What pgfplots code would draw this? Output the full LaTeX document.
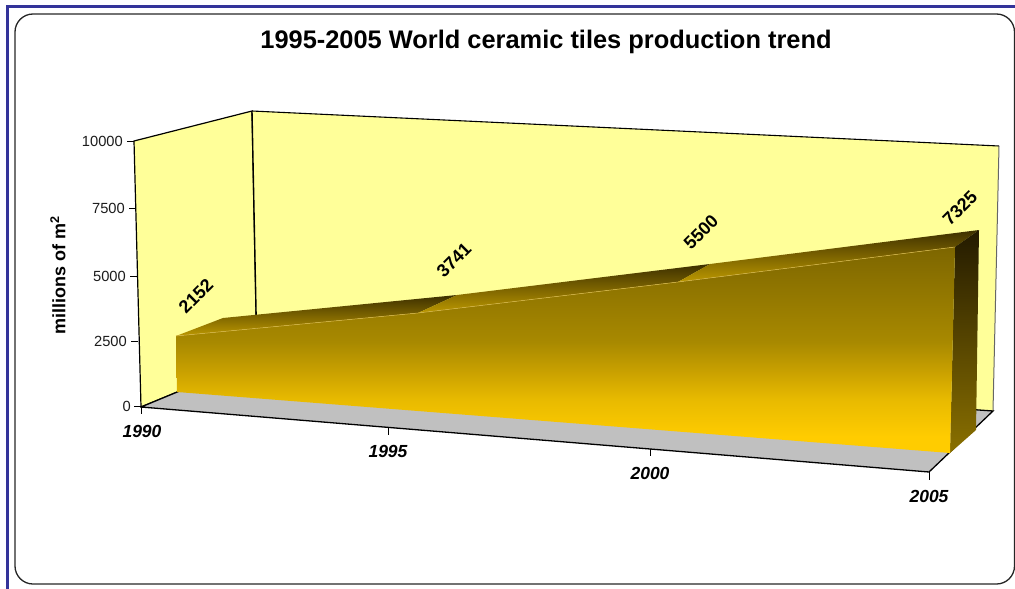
\documentclass[border=0pt]{standalone}
\usepackage{fontspec}
\setmainfont{Liberation Sans}
\usepackage{pgfplots}
\usepackage{pgfplotstable}
\pgfplotsset{compat=1.18}

\definecolor{wall}{HTML}{FFFF99}
\definecolor{floorgrey}{HTML}{C0C0C0}
\definecolor{frameblue}{HTML}{333399}
\definecolor{gold}{HTML}{FFCC00}
\definecolor{goldb}{HTML}{E8BA00}
\definecolor{goldc}{HTML}{C8A000}
\definecolor{goldd}{HTML}{A88900}
\definecolor{olive}{HTML}{7D6600}
\definecolor{sideolive}{HTML}{8A7000}
\definecolor{topgold}{HTML}{BC9800}
\definecolor{topdark}{HTML}{3C2F00}
\definecolor{sidedark}{HTML}{231A00}
\definecolor{seam}{HTML}{D8B850}
\definecolor{ticktext}{HTML}{1C1C1C}

% the path's box covers 25bp to 75bp of this shading
\pgfdeclareverticalshading{frontface}{100bp}{color(0bp)=(gold); color(29bp)=(gold); color(38bp)=(goldb); color(45bp)=(goldc); color(52bp)=(goldd); color(75bp)=(olive); color(100bp)=(olive)}

\tikzset{
    ticklab/.style={font=\fontsize{14.7}{15}\selectfont, anchor=east, inner sep=0pt, text=ticktext},
    yearlab/.style={font=\bfseries\itshape\fontsize{17.5}{18}\selectfont},
    vallab/.style={font=\bfseries\fontsize{18}{18}\selectfont, rotate=45},
}

% front face of the area: base and k place each value on the tilted front plane (pixels)
\pgfplotstableread{
year value px base k
1990 0    177 392 0
1990 2152 176 392 0.02602
1995 3741 418 411 0.02620
2000 5500 678 432 0.02727
2005 7325 955 453 0.02812
2005 0    950 453 0
}\front

\begin{document}
\begin{tikzpicture}
\useasboundingbox (0,0) rectangle (1015pt,589pt);
\begin{axis}[
    at={(0,0)}, anchor=south west,
    scale only axis,
    width=1015pt, height=589pt,
    xmin=0, xmax=1015, ymin=0, ymax=589,
    y dir=reverse,
    hide axis,
    clip=false,
]
% page frame
\addplot[frameblue, line width=3pt, mark=none] coordinates {(7.5,589) (7.5,6) (1015,6)};
\draw[black!85, line width=1.3pt, rounded corners=18pt]
    (axis cs:15,14) rectangle (axis cs:1014.5,584);

% walls
\addplot[draw=black, line width=1.2pt, fill=wall, mark=none] coordinates {(134,141) (252,111) (257,359) (141,407)} --cycle;
\addplot[draw=none, fill=wall, mark=none] coordinates {(252,111) (999,146) (993,411) (257,359)} --cycle;
\addplot[black, line width=1.1pt, mark=none] coordinates {(252,111) (999,146)};
\addplot[black!60, line width=1pt, mark=none] coordinates {(999,146) (993,411)};
\addplot[black, line width=1.4pt, mark=none] coordinates {(252,111) (257,359)};

% floor
\addplot[draw=none, fill=floorgrey, mark=none] coordinates {(141,407) (257,359) (993,411) (929,472)} --cycle;
\addplot[black, line width=1.3pt, mark=none] coordinates {(141,407) (257,359) (993,411) (929,472) (141,407)};

% ticks
\addplot[black, line width=.8pt, mark=none] coordinates {(127,141) (134,141)};
\addplot[black, line width=.8pt, mark=none] coordinates {(129,208) (136,208)};
\addplot[black, line width=.8pt, mark=none] coordinates {(130,276) (137,276)};
\addplot[black, line width=.8pt, mark=none] coordinates {(131,341) (138,341)};
\addplot[black, line width=.8pt, mark=none] coordinates {(134,406) (141,406)};
\addplot[black, line width=.8pt, mark=none] coordinates {(141,407) (141,414)};
\addplot[black, line width=.8pt, mark=none] coordinates {(388,428) (388,435)};
\addplot[black, line width=.8pt, mark=none] coordinates {(650,449) (650,456)};
\addplot[black, line width=.8pt, mark=none] coordinates {(929,472) (929,480)};

% top faces, one per interval
\addplot[draw=none, top color=topdark, bottom color=topgold, mark=none] coordinates {(176,336) (223,318) (457,295) (418,313)} --cycle;
\addplot[draw=none, top color=topdark, bottom color=topgold, mark=none] coordinates {(418,313) (457,295) (710,264) (678,282)} --cycle;
\addplot[draw=none, top color=topdark, bottom color=topgold, mark=none] coordinates {(678,282) (710,264) (979,230) (955,247)} --cycle;

% right end
\addplot[draw=none, top color=sidedark, bottom color=sideolive, mark=none] coordinates {(955,247) (979,230) (976,430) (950,453)} --cycle;

% front face
\addplot[draw=none, shade, shading=frontface, mark=none]
    table[x=px, y expr=\thisrow{base}-\thisrow{k}*\thisrow{value}] {\front} --cycle;
\addplot[seam, line width=.5pt, mark=none] coordinates {(176,336) (418,313) (678,282) (955,247)};

% text
\node[font=\bfseries\fontsize{25.4}{26}\selectfont] at (axis cs:546,42) {1995-2005 World ceramic tiles production trend};
\node[font=\bfseries\fontsize{18}{18}\selectfont, rotate=90] at (axis cs:58,275) {millions of m\textsuperscript{2}};

\node[ticklab] at (axis cs:123,141) {10000};
\node[ticklab] at (axis cs:125,208) {7500};
\node[ticklab] at (axis cs:126,276) {5000};
\node[ticklab] at (axis cs:127,341) {2500};
\node[ticklab] at (axis cs:131,406) {0};

\node[yearlab] at (axis cs:142,431) {1990};
\node[yearlab] at (axis cs:388,451) {1995};
\node[yearlab] at (axis cs:650,473) {2000};
\node[yearlab] at (axis cs:929,496) {2005};

\node[vallab] at (axis cs:196,296) {2152};
\node[vallab] at (axis cs:454,260) {3741};
\node[vallab] at (axis cs:701,232) {5500};
\node[vallab] at (axis cs:960,208) {7325};
\end{axis}
\end{tikzpicture}
\end{document}
